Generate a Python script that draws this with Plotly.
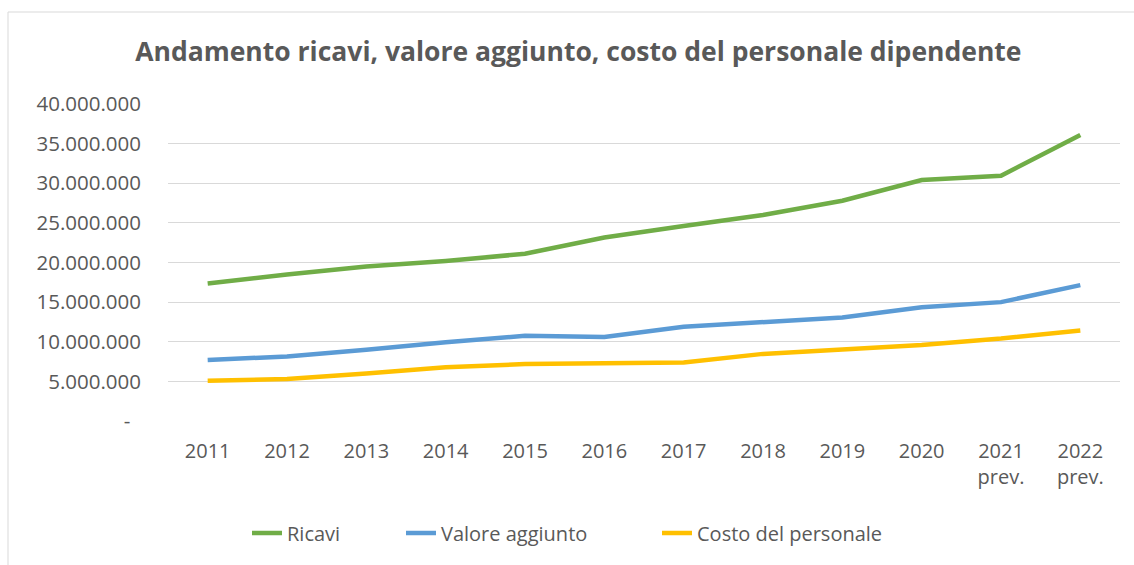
import plotly.graph_objects as go

# ── Data ──────────────────────────────────────────────────────────────────────
YEARS = ["2011", "2012", "2013", "2014", "2015", "2016", "2017", "2018",
         "2019", "2020", "2021<br>prev.", "2022<br>prev."]

RICAVI = [17_350_000, 18_500_000, 19_500_000, 20_200_000, 21_100_000, 23_150_000,
          24_600_000, 26_000_000, 27_800_000, 30_400_000, 30_950_000, 36_100_000]
VALORE_AGGIUNTO = [7_700_000, 8_150_000, 9_000_000, 9_950_000, 10_750_000, 10_600_000,
                   11_900_000, 12_500_000, 13_050_000, 14_350_000, 15_000_000, 17_150_000]
COSTO_PERSONALE = [5_080_000, 5_300_000, 6_000_000, 6_770_000, 7_180_000, 7_300_000,
                   7_380_000, 8_470_000, 9_100_000, 9_600_000, 10_400_000, 11_430_000]

Y_TICKS = [0, 5_000_000, 10_000_000, 15_000_000, 20_000_000,
           25_000_000, 30_000_000, 35_000_000, 40_000_000]

TITLE = "Andamento ricavi, valore aggiunto, costo del personale dipendente"

# ── Style ─────────────────────────────────────────────────────────────────────
W, H = 1134, 565
M_L, M_R, M_T, M_B = 168, 14, 104, 144
TEXT = "#595959"
GRID = "#D9D9D9"
FONT = "Open Sans, Lato, sans-serif"

# name, values, colour, legend slot, left px of legend entry
SERIES = [
    ("Ricavi", RICAVI, "#70AD47", "legend", 247),
    ("Valore aggiunto", VALORE_AGGIUNTO, "#5B9BD5", "legend2", 401),
    ("Costo del personale", COSTO_PERSONALE, "#FFC000", "legend3", 657),
]


def fmt_it(v):
    # excel accounting style: zero shown as a dash, thousands with dots
    if v == 0:
        return "-" + "\u00a0" * 2
    return f"{v:,.0f}".replace(",", ".")


fig = go.Figure()
legends = {}
for name, vals, color, leg, lx in SERIES:
    fig.add_trace(go.Scatter(
        x=YEARS, y=vals, name=name, mode="lines",
        line=dict(color=color, width=4.5), legend=leg,
    ))
    legends[leg] = dict(
        orientation="h", xref="container", x=lx / W, xanchor="left",
        yref="container", y=1 - 533 / H, yanchor="middle",
        font=dict(size=20, color=TEXT), bgcolor="rgba(0,0,0,0)",
    )

# outer chart border (paper coords relative to plot area)
pw, ph = W - M_L - M_R, H - M_T - M_B
fig.add_shape(
    type="rect", xref="paper", yref="paper",
    x0=(8 - M_L) / pw, x1=(W + 5 - M_L) / pw,
    y0=-(M_B + 5) / ph, y1=(H - 12 - M_B) / ph,
    line=dict(color=GRID, width=1), fillcolor="rgba(0,0,0,0)", layer="below",
)

fig.update_layout(
    width=W, height=H,
    margin=dict(l=M_L, r=M_R, t=M_T, b=M_B, autoexpand=False),
    paper_bgcolor="white", plot_bgcolor="white",
    font=dict(family=FONT, color=TEXT, size=20),
    title=dict(text=f"<b>{TITLE}</b>", x=0.51, xref="container", xanchor="center",
               y=1 - 52 / H, yref="container", yanchor="middle",
               font=dict(size=26.5, color=TEXT, family=FONT)),
    showlegend=True,
    xaxis=dict(type="category", range=[-0.5, len(YEARS) - 0.5],
               showgrid=False, showline=False, zeroline=False,
               ticks="", ticklabelstandoff=16, tickfont=dict(size=20, color=TEXT)),
    yaxis=dict(range=[0, 40_000_000], tickvals=Y_TICKS,
               ticktext=[fmt_it(v) for v in Y_TICKS],
               showgrid=True, gridcolor=GRID, gridwidth=1,
               zeroline=False, showline=False, ticks="", ticklabelstandoff=26,
               tickfont=dict(size=20.5, color=TEXT)),
    **legends,
)

fig.write_html("out.html", config={"displayModeBar": False},
               post_script="document.body.style.margin='0';")
